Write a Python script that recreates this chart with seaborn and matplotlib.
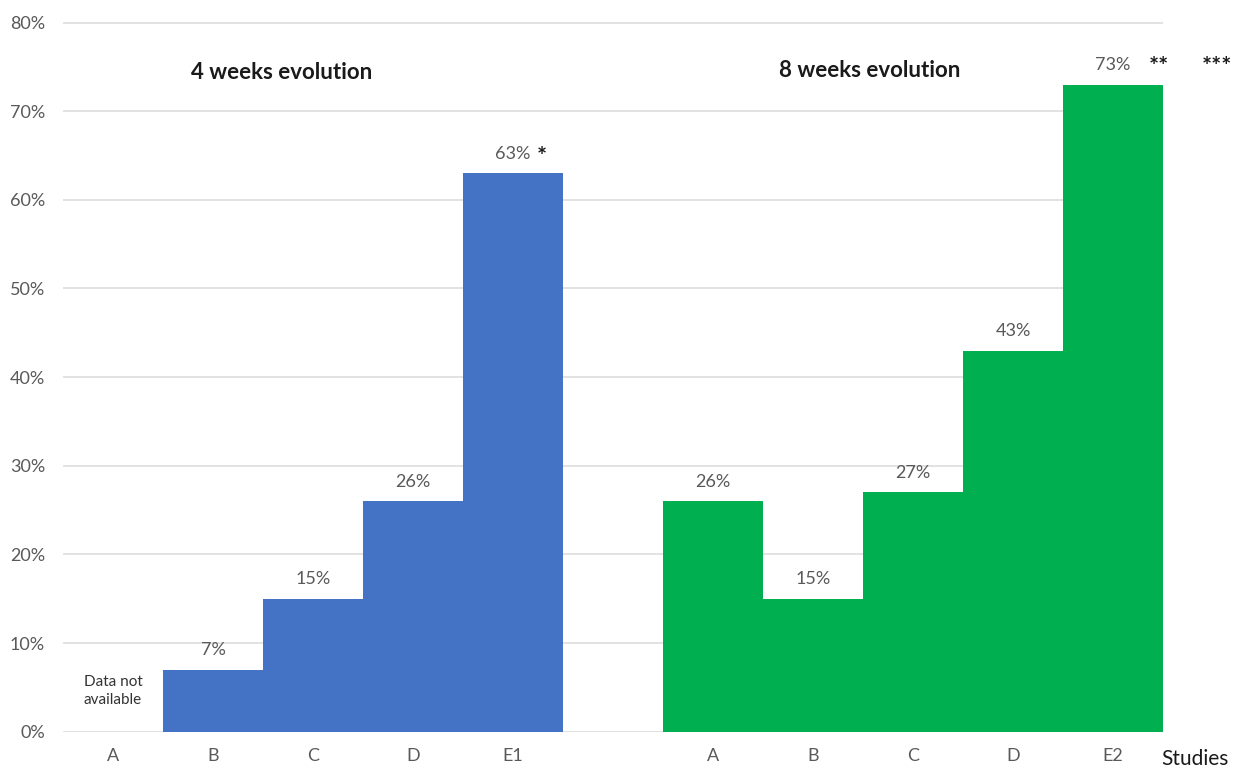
import numpy as np
import pandas as pd
import matplotlib
matplotlib.use("Agg")
import matplotlib.pyplot as plt
import seaborn as sns
from matplotlib.ticker import PercentFormatter, FixedLocator

# Share of responders per study, by length of follow-up
studies_4w = ["A", "B", "C", "D", "E1"]
pct_4w = [np.nan, 7, 15, 26, 63]
studies_8w = ["A", "B", "C", "D", "E2"]
pct_8w = [26, 15, 27, 43, 73]
period_titles = ["4 weeks evolution", "8 weeks evolution"]
significance_4w = {"E1": "*"}
significance_8w = {"E2": ["**", "***"]}
y_ticks = [0, 10, 20, 30, 40, 50, 60, 70, 80]

palette = {"4w": "#4472C4", "8w": "#00B050"}
label_gray = "#595959"

sns.set_theme(style="white")
plt.rcParams["font.family"] = ["Lato", "DejaVu Sans"]

keys_4w = [f"4w-{s}" for s in studies_4w]
keys_8w = [f"8w-{s}" for s in studies_8w]
order = keys_4w + ["gap"] + keys_8w
tick_labels = studies_4w + [""] + studies_8w

df = pd.DataFrame({
    "slot": keys_4w + keys_8w,
    "pct": pct_4w + pct_8w,
    "period": ["4w"] * len(keys_4w) + ["8w"] * len(keys_8w),
})
bars = df.dropna()

fig = plt.figure(figsize=(12.48, 7.71), dpi=100)
ax = fig.add_axes([0.0505, 0.051, 0.8815, 0.922])

sns.barplot(data=bars, x="slot", y="pct", hue="period", order=order,
            palette=palette, dodge=False, width=1.0, linewidth=0,
            saturation=1, legend=False, ax=ax)

ax.set_xlim(-0.5, len(order) - 0.5)
ax.set_ylim(0, 80.2)
ax.yaxis.set_major_locator(FixedLocator(y_ticks))
ax.yaxis.set_major_formatter(PercentFormatter(decimals=0))
ax.set_xticks(range(len(order)))
ax.set_xticklabels(tick_labels)
ax.set_xlabel("")
ax.set_ylabel("")
ax.yaxis.grid(True, color="#DDDDDD", linewidth=1.2)
ax.set_axisbelow(True)
for sp in ax.spines.values():
    sp.set_visible(False)
ax.tick_params(axis="both", length=0, labelsize=13, labelcolor=label_gray)
ax.tick_params(axis="y", pad=13)
ax.tick_params(axis="x", pad=12)

# value labels above each bar
for slot, v in zip(bars["slot"], bars["pct"]):
    i = order.index(slot)
    ax.annotate(f"{v:.0f}%", (i, v), xytext=(0, 14), textcoords="offset points",
                ha="center", va="center", fontsize=13, color=label_gray)

# significance marks
for study, mark in significance_4w.items():
    i = order.index(f"4w-{study}")
    v = pct_4w[studies_4w.index(study)]
    ax.annotate(mark, (i, v), xytext=(21, 11), textcoords="offset points",
                ha="center", va="center", fontsize=17, fontweight="bold", color="#1a1a1a")
for study, marks in significance_8w.items():
    i = order.index(f"8w-{study}")
    v = pct_8w[studies_8w.index(study)]
    for dx, mark in zip([33, 75], marks):
        ax.annotate(mark, (i, v), xytext=(dx, 12), textcoords="offset points",
                    ha="center", va="center", fontsize=17, fontweight="bold",
                    color="#1a1a1a", annotation_clip=False)

# missing data note
ax.text(order.index("4w-A"), 4.6, "Data not\navailable", ha="center", va="center",
        fontsize=11, color="#333333", linespacing=1.4)

# period headings
ax.text(1.69, 74.4, period_titles[0], ha="center", va="center",
        fontsize=16, fontweight="bold", color="#1a1a1a")
ax.text(7.57, 74.6, period_titles[1], ha="center", va="center",
        fontsize=16, fontweight="bold", color="#1a1a1a")

# axis caption at the right end of the category axis
ax.annotate("Studies", xy=(10.82, 0), xycoords=("data", "axes fraction"),
            xytext=(0, -20), textcoords="offset points", ha="center", va="center",
            fontsize=15, color="#1a1a1a", annotation_clip=False)

fig.savefig("out.png", dpi=100)
